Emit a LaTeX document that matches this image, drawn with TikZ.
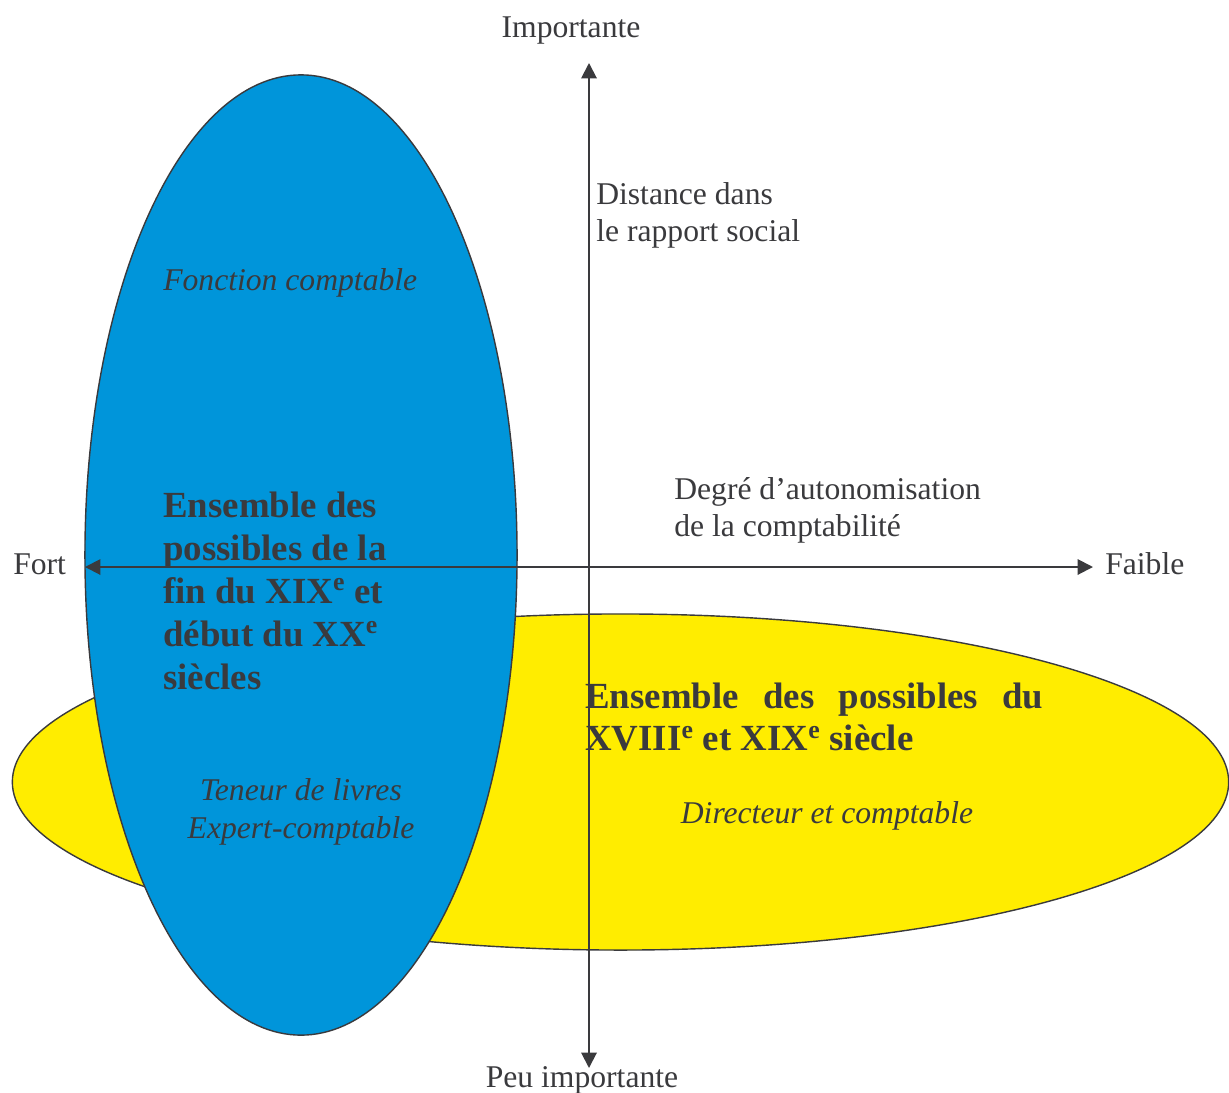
\documentclass[tikz,border=0pt]{standalone}
\usepackage{fontspec}
\setmainfont{Liberation Serif}
\usetikzlibrary{positioning,arrows.meta,shapes.geometric}
\definecolor{ink}{RGB}{58,58,61}
\definecolor{sky}{RGB}{0,149,218}
\definecolor{lemon}{RGB}{255,237,0}

\begin{document}
\begin{tikzpicture}[x=0.025cm, y=-0.025cm, every node/.style={text=ink, inner sep=0pt},
  plain/.style={font=\fontsize{22.5}{26.2}\selectfont},
  slant/.style={font=\fontsize{22.5}{26.5}\selectfont\itshape, align=center},
  heavy/.style={font=\fontsize{26.2}{30.5}\selectfont\bfseries},
  blob/.style={ellipse, draw=ink, line width=1pt},
  axis/.style={draw=ink, line width=1.4pt, -{Triangle[length=11pt,width=11pt]}}]
\useasboundingbox (0,0) rectangle (1229,1092);
% the two sets
\node[blob, fill=lemon, minimum width=30.4cm, minimum height=8.4cm] (xviii) at (620.5,782) {};
\node[blob, fill=sky, minimum width=10.8cm, minimum height=24cm] (xix) at (301,555) {};
% axes
\coordinate (top) at (589,63);
\coordinate (bottom) at (589,1068);
\coordinate (left) at (85,567);
\coordinate (right) at (1093,567);
\coordinate (origin) at (589,567);
\draw[axis] (origin) -- (top);
\draw[axis] (origin) -- (bottom);
\draw[axis] (origin) -- (left);
\draw[axis] (origin) -- (right);
\node[plain] (imp) at (571,31) {Importante};
\node[plain] (peu) at (582,1080) {Peu importante};
\node[plain, anchor=west] (fort) at (13,564) {Fort};
\node[plain, anchor=west] (faible) at (1105,564) {Faible};
\node[plain, anchor=west, align=left] (dist) at (596,215) {Distance dans\\le rapport social};
\node[plain, anchor=west, align=left] (degre) at (674,510) {Degré d’autonomisation\\de la comptabilité};
% labels inside
\node[slant, anchor=west] (fonction) at (163,283) {Fonction comptable};
\node[slant] (teneur) at (301,812) {Teneur de livres\\Expert-comptable};
\node[slant] (directeur) at (827,816) {Directeur et comptable};
\node[heavy, anchor=west, align=left] (fin) at (163,591) {Ensemble des\\possibles de la\\fin du XIX\textsuperscript{e} et\\début du XX\textsuperscript{e}\\siècles};
\node[heavy, anchor=west, text width=11.45cm, align=justify] (possibles) at (585,717) {Ensemble des possibles du XVIII\textsuperscript{e} et XIX\textsuperscript{e} siècle};
\end{tikzpicture}
\end{document}
